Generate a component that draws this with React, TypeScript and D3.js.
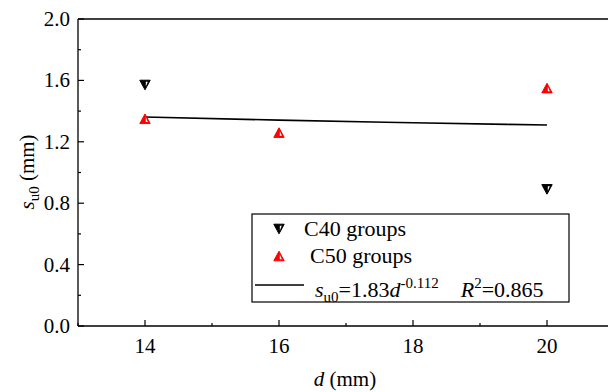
import React from "react";
import * as d3 from "d3";

const c40D = [14, 20];
const c40S = [1.57, 0.89];
const c50D = [14, 16, 20];
const c50S = [1.35, 1.26, 1.55];
const fitD = [14, 16, 18, 20];
const fitS = [1.362, 1.341, 1.324, 1.309];
const xTicks = [14, 16, 18, 20];
const xMinor = [13, 15, 17, 19, 21];
const yTicks = [0, 0.4, 0.8, 1.2, 1.6, 2.0];
const yMinor = [0.2, 0.6, 1.0, 1.4, 1.8];

const W = 608;
const H = 392;

const x = d3.scaleLinear().domain([13, 21]).range([78, 614]);
const y = d3.scaleLinear().domain([0, 2]).range([326, 19]);

const TS = (size: number): React.CSSProperties => ({ fontFamily: "Liberation Serif", fontSize: size + "px" });

function HalfTri({ cx, cy, down, color }: { cx: number; cy: number; down: boolean; color: string }) {
  const w = 5.2, h = 4.8;
  const s = down ? 1 : -1;
  const full = `M${cx - w},${cy - s * h}L${cx + w},${cy - s * h}L${cx},${cy + s * h}Z`;
  const sliver = `M${cx + 0.8},${cy - s * (h - 1.6)}L${cx + w - 2.4},${cy - s * (h - 1.6)}L${cx + 0.8},${cy + s * (h - 3.2)}Z`;
  return (
    <g>
      <path d={full} fill={color} stroke={color} strokeWidth={1} strokeLinejoin="miter" />
      <path d={sliver} fill="white" stroke="none" />
    </g>
  );
}

export default function App() {
  const line = d3.line<number>().x((_, i) => x(fitD[i])).y((v) => y(v)).curve(d3.curveMonotoneX);
  const x0 = x.range()[0];
  const y0 = y.range()[0];
  const yTop = y.range()[1];
  return (
    <svg width={W} height={H} style={{ position: "absolute", left: 0, top: 0, background: "white" }}>
      <rect x={0} y={0} width={W} height={H} fill="white" />
      {/* frame */}
      <line x1={x0} x2={W} y1={yTop} y2={yTop} stroke="black" strokeWidth={1.3} />
      <line x1={x0} x2={x0} y1={yTop} y2={y0} stroke="black" strokeWidth={1.3} />
      <line x1={x0} x2={W} y1={y0} y2={y0} stroke="black" strokeWidth={1.3} />
      {/* x ticks */}
      {xTicks.map((t) => (
        <g key={"xt" + t}>
          <line x1={x(t)} x2={x(t)} y1={y0} y2={y0 - 6} stroke="black" strokeWidth={1.2} />
          <text x={x(t)} y={y0 + 27} textAnchor="middle" style={TS(21)}>{t}</text>
        </g>
      ))}
      {xMinor.map((t) => (
        <line key={"xm" + t} x1={x(t)} x2={x(t)} y1={y0} y2={y0 - 3} stroke="black" strokeWidth={1.2} />
      ))}
      {/* y ticks */}
      {yTicks.map((t) => (
        <g key={"yt" + t}>
          <line x1={x0} x2={x0 + 6} y1={y(t)} y2={y(t)} stroke="black" strokeWidth={1.2} />
          <text x={x0 - 8} y={y(t) + 7} textAnchor="end" style={TS(21)}>{t.toFixed(1)}</text>
        </g>
      ))}
      {yMinor.map((t) => (
        <line key={"ym" + t} x1={x0} x2={x0 + 3} y1={y(t)} y2={y(t)} stroke="black" strokeWidth={1.2} />
      ))}
      {/* axis titles */}
      <text x={345} y={386} textAnchor="middle" style={TS(21)}>
        <tspan fontStyle="italic">d</tspan>
        <tspan>{"\u00A0(mm)"}</tspan>
      </text>
      <text transform={`translate(34,172) rotate(-90)`} textAnchor="middle" style={TS(21)}>
        <tspan fontStyle="italic">s</tspan>
        <tspan style={TS(15)} dy={5}>u0</tspan>
        <tspan dy={-5}>{"\u00A0(mm)"}</tspan>
      </text>
      {/* fit line */}
      <path d={line(fitS) || ""} fill="none" stroke="black" strokeWidth={1.6} />
      {/* points */}
      {c40D.map((dv, i) => (
        <HalfTri key={"a" + i} cx={x(dv)} cy={y(c40S[i])} down={true} color="black" />
      ))}
      {c50D.map((dv, i) => (
        <HalfTri key={"b" + i} cx={x(dv)} cy={y(c50S[i])} down={false} color="red" />
      ))}
      {/* legend */}
      <rect x={252} y={214} width={317} height={88} fill="white" stroke="black" strokeWidth={1.2} />
      <HalfTri cx={279} cy={229} down={true} color="black" />
      <text x={304} y={236} style={TS(22)}>C40 groups</text>
      <HalfTri cx={279} cy={256} down={false} color="red" />
      <text x={310} y={263} style={TS(22)}>C50 groups</text>
      <line x1={255} x2={304} y1={285} y2={285} stroke="black" strokeWidth={1.6} />
      <text x={315} y={297} style={TS(22)}>
        <tspan fontStyle="italic">s</tspan>
        <tspan style={TS(15)} dy={5}>u0</tspan>
        <tspan dy={-5}>=1.83</tspan>
        <tspan fontStyle="italic">d</tspan>
        <tspan style={TS(15)} dy={-9}>-0.112</tspan>
        <tspan dy={9}>{"\u00A0\u00A0\u00A0\u00A0"}</tspan>
        <tspan fontStyle="italic">R</tspan>
        <tspan style={TS(15)} dy={-9}>2</tspan>
        <tspan dy={9}>=0.865</tspan>
      </text>
    </svg>
  );
}
